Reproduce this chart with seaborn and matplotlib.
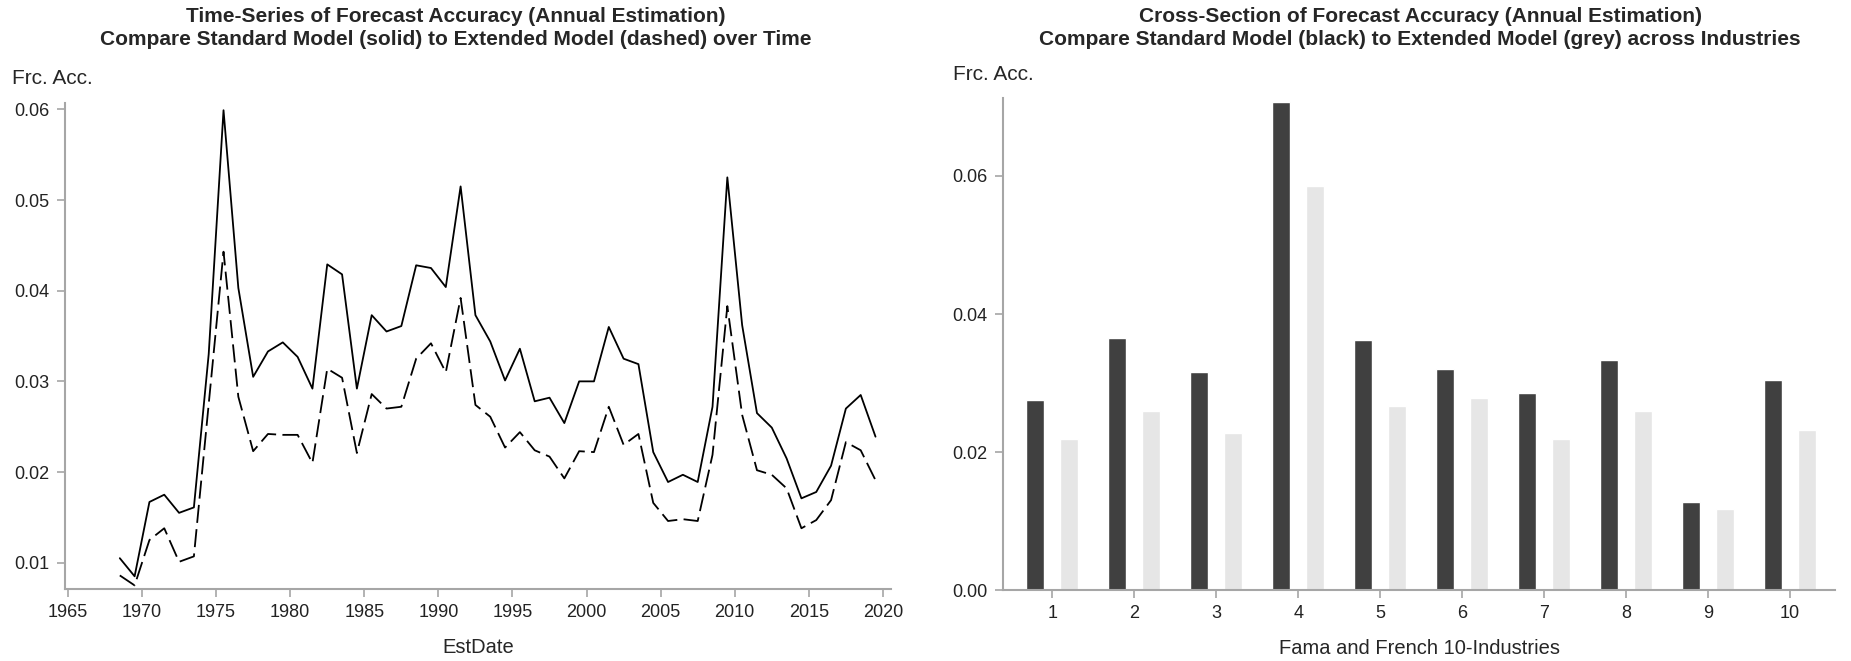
import numpy as np
import pandas as pd
import matplotlib
matplotlib.use("Agg")
import matplotlib.pyplot as plt
import seaborn as sns

# time series (annual estimation), mid-year dates
years = [1968.5 + i for i in range(52)]
standard_ts = [0.0105, 0.0085, 0.0167, 0.0175, 0.0155, 0.0161, 0.0330, 0.0599, 0.0403, 0.0305,
               0.0333, 0.0343, 0.0327, 0.0292, 0.0429, 0.0418, 0.0292, 0.0373, 0.0355, 0.0361,
               0.0428, 0.0425, 0.0404, 0.0515, 0.0373, 0.0344, 0.0301, 0.0336, 0.0278, 0.0282,
               0.0254, 0.0300, 0.0300, 0.0360, 0.0325, 0.0319, 0.0222, 0.0189, 0.0197, 0.0189,
               0.0272, 0.0525, 0.0362, 0.0265, 0.0249, 0.0215, 0.0171, 0.0178, 0.0207, 0.0270,
               0.0285, 0.0239]
extended_ts = [0.0086, 0.0075, 0.0125, 0.0138, 0.0101, 0.0107, 0.0275, 0.0443, 0.0283, 0.0223,
               0.0242, 0.0241, 0.0241, 0.0210, 0.0314, 0.0304, 0.0221, 0.0286, 0.0270, 0.0272,
               0.0325, 0.0342, 0.0310, 0.0392, 0.0274, 0.0261, 0.0227, 0.0244, 0.0224, 0.0217,
               0.0193, 0.0223, 0.0222, 0.0272, 0.0230, 0.0242, 0.0166, 0.0146, 0.0148, 0.0146,
               0.0219, 0.0383, 0.0263, 0.0202, 0.0197, 0.0182, 0.0138, 0.0147, 0.0169, 0.0233,
               0.0224, 0.0191]

# cross-section over Fama-French 10 industries
industries = ["1", "2", "3", "4", "5", "6", "7", "8", "9", "10"]
standard_cs = [0.0276, 0.0365, 0.0316, 0.0707, 0.0362, 0.0320, 0.0285, 0.0333, 0.0128, 0.0304]
extended_cs = [0.0219, 0.0260, 0.0228, 0.0586, 0.0266, 0.0278, 0.0219, 0.0259, 0.0117, 0.0232]

ts = pd.DataFrame({
    "EstDate": years * 2,
    "FrcAcc": standard_ts + extended_ts,
    "Model": ["Standard"] * len(years) + ["Extended"] * len(years),
})
cs = pd.DataFrame({
    "Industry": industries * 2,
    "FrcAcc": standard_cs + extended_cs,
    "Model": ["Standard"] * len(industries) + ["Extended"] * len(industries),
})

sns.set_style("ticks")
plt.rcParams["font.family"] = ["Liberation Sans", "DejaVu Sans"]
axis_grey = "#a6a6a6"

fig = plt.figure(figsize=(18.51, 6.61), dpi=100)
ax1 = fig.add_axes([0.0351, 0.1089, 0.4463, 0.7353])
ax2 = fig.add_axes([0.5419, 0.1074, 0.4495, 0.7443])

# left: time series
sns.lineplot(data=ts, x="EstDate", y="FrcAcc", style="Model", color="black",
             dashes={"Standard": "", "Extended": (10, 3.5)}, linewidth=1.3,
             legend=False, ax=ax1)
ax1.set_xlim(1964.8, 2020.55)
ax1.set_ylim(0.0071, 0.0607)
ax1.set_xticks(range(1965, 2021, 5))
ax1.set_yticks([0.01, 0.02, 0.03, 0.04, 0.05, 0.06])
ax1.set_yticklabels(["0.01", "0.02", "0.03", "0.04", "0.05", "0.06"])
ax1.set_xlabel("EstDate", fontsize=14.5, labelpad=12)

# right: cross-section bars
sns.barplot(data=cs, x="Industry", y="FrcAcc", hue="Model", order=industries,
            palette={"Standard": "#404040", "Extended": "#e6e6e6"},
            width=0.83, gap=0.47, legend=False, ax=ax2)
ax2.set_xlim(-0.6, 9.55)
ax2.set_ylim(0, 0.0713)
ax2.set_yticks([0.0, 0.02, 0.04, 0.06])
ax2.set_yticklabels(["0.00", "0.02", "0.04", "0.06"])
ax2.set_xlabel("Fama and French 10-Industries", fontsize=14.5, labelpad=12)

titles = [
    (456 / 1851, "Time-Series of Forecast Accuracy (Annual Estimation)\n"
                 "Compare Standard Model (solid) to Extended Model (dashed) over Time"),
    (1420 / 1851, "Cross-Section of Forecast Accuracy (Annual Estimation)\n"
                  "Compare Standard Model (black) to Extended Model (grey) across Industries"),
]
for xc, t in titles:
    fig.text(xc, 1 - 28 / 661, t, ha="center", va="center", fontsize=15,
             fontweight="bold", linespacing=1.25)

for ax, lx, ly in [(ax1, -0.064, 1.051), (ax2, -0.060, 1.047)]:
    sns.despine(ax=ax)
    for s in ["left", "bottom"]:
        ax.spines[s].set_color(axis_grey)
        ax.spines[s].set_linewidth(1.5)
    ax.tick_params(colors=axis_grey, labelcolor="#222222", labelsize=13,
                   length=6, width=1.2, pad=5)
    ax.set_ylabel("Frc. Acc.", fontsize=15, rotation=0, ha="left", va="center")
    ax.yaxis.set_label_coords(lx, ly)

fig.savefig("out.png", dpi=100)
